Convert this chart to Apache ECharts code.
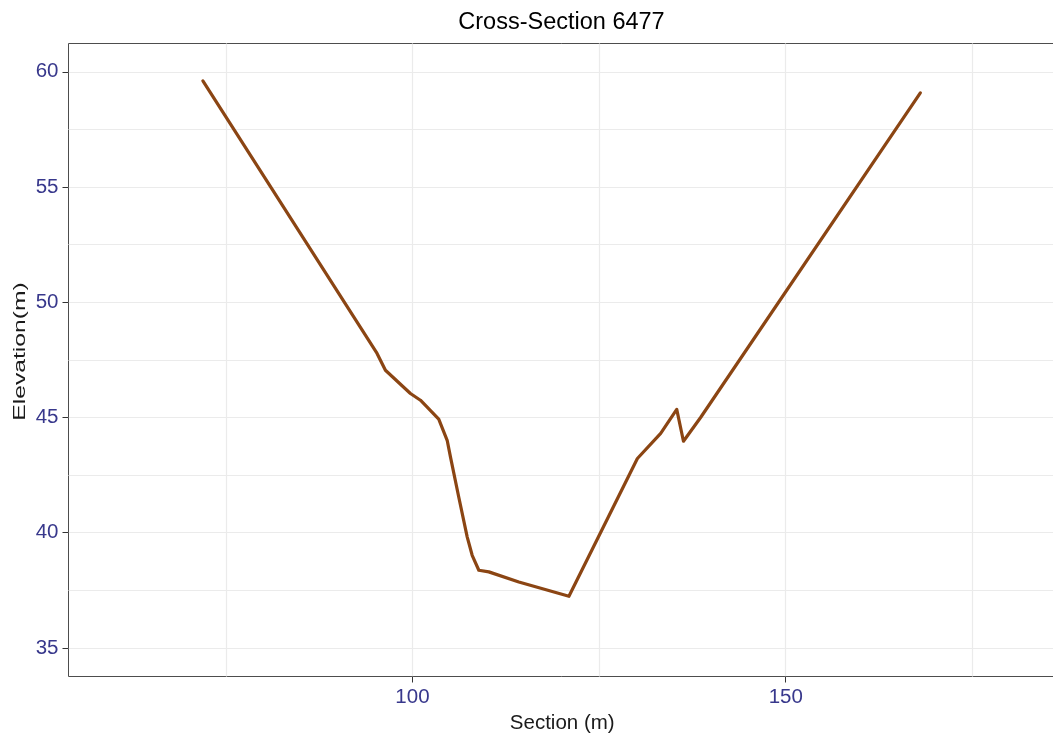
<!DOCTYPE html>
<html>
<head>
<meta charset="utf-8">
<title>Cross-Section 6477</title>
<script src="https://cdn.jsdelivr.net/npm/echarts@6/dist/echarts.min.js"></script>
<style>
  html, body { margin: 0; padding: 0; background: #ffffff; }
  #chart { width: 1053px; height: 740px; }
</style>
</head>
<body>
<div id="chart"></div>
<script>
// Channel survey: station along the section (m) and ground elevation (m)
const station = [71.93, 95.26, 96.38, 99.73, 101.07, 103.52, 104.65, 105.09, 106.2, 107.33,
                 108.0, 108.89, 110.23, 114.25, 120.96, 130.13, 133.25, 135.40, 136.30, 138.62, 168.03];
const elevation = [59.61, 47.78, 47.05, 46.04, 45.75, 44.93, 44.01, 43.29, 41.55, 39.82,
                   39.02, 38.37, 38.30, 37.86, 37.24, 43.22, 44.31, 45.35, 43.97, 45.01, 59.09];

// Axis ranges and tick positions
const xRange = [53.93, 186.2];
const yRange = [33.76, 61.23];
const xMajorTicks = [100, 150];
const xMinorTicks = [75, 125, 175];
const yMajorTicks = [35, 40, 45, 50, 55, 60];
const yMinorTicks = [37.5, 42.5, 47.5, 52.5, 57.5];

const FONT = "'Liberation Sans', Arial, sans-serif";
const GRID_COLOR = '#ebebeb';
const TICK_TEXT = '#38388c';

const profile = station.map((s, i) => [s, elevation[i]]);

const chart = echarts.init(document.getElementById('chart'), null, { renderer: 'canvas' });

chart.setOption({
  backgroundColor: '#ffffff',
  animation: false,
  grid: {
    left: 68.5,
    top: 43.5,
    right: -3,
    bottom: 63.5,
    outerBoundsMode: 'none',
    containLabel: false,
    show: true,
    borderColor: '#4d4d4d',
    borderWidth: 1,
    backgroundColor: 'transparent'
  },
  graphic: [
    {
      type: 'text',
      x: 561.5,
      y: 22.5,
      style: {
        text: 'Cross-Section 6477',
        fontFamily: FONT,
        fontSize: 23.5,
        fill: '#000000',
        textAlign: 'center',
        textVerticalAlign: 'middle'
      }
    },
    {
      // vertical axis title, drawn tall and narrow
      type: 'text',
      x: 20.5,
      y: 351.5,
      rotation: Math.PI / 2,
      scaleX: 1.45,
      scaleY: 1,
      style: {
        text: 'Elevation(m)',
        fontFamily: FONT,
        fontSize: 17,
        fill: '#1a1a1a',
        textAlign: 'center',
        textVerticalAlign: 'middle'
      }
    }
  ],
  xAxis: [
    {
      type: 'value',
      min: xRange[0],
      max: xRange[1],
      position: 'bottom',
      name: 'Section (m)',
      nameLocation: 'middle',
      nameGap: 36,
      nameTextStyle: { fontFamily: FONT, fontSize: 20.5, color: '#1a1a1a' },
      axisLine: { show: false },
      axisTick: { show: true, customValues: xMajorTicks, length: 6, lineStyle: { color: '#333333' } },
      axisLabel: { customValues: xMajorTicks, fontFamily: FONT, fontSize: 20.5, color: TICK_TEXT, margin: 10 },
      splitLine: { show: true, customValues: xMajorTicks, lineStyle: { color: GRID_COLOR, width: 1.2 } }
    },
    {
      type: 'value',
      min: xRange[0],
      max: xRange[1],
      position: 'bottom',
      axisLine: { show: false },
      axisTick: { show: false, customValues: xMinorTicks },
      axisLabel: { show: false, customValues: xMinorTicks },
      splitLine: { show: true, customValues: xMinorTicks, lineStyle: { color: GRID_COLOR, width: 1.2 } }
    }
  ],
  yAxis: [
    {
      type: 'value',
      min: yRange[0],
      max: yRange[1],
      position: 'left',
      axisLine: { show: false },
      axisTick: { show: true, customValues: yMajorTicks, length: 6, lineStyle: { color: '#333333' } },
      axisLabel: { customValues: yMajorTicks, fontFamily: FONT, fontSize: 20.5, color: TICK_TEXT, margin: 10 },
      splitLine: { show: true, customValues: yMajorTicks, lineStyle: { color: GRID_COLOR, width: 1.2 } }
    },
    {
      type: 'value',
      min: yRange[0],
      max: yRange[1],
      position: 'left',
      axisLine: { show: false },
      axisTick: { show: false, customValues: yMinorTicks },
      axisLabel: { show: false, customValues: yMinorTicks },
      splitLine: { show: true, customValues: yMinorTicks, lineStyle: { color: GRID_COLOR, width: 1.2 } }
    }
  ],
  series: [
    {
      name: 'Ground profile',
      type: 'line',
      xAxisIndex: 0,
      yAxisIndex: 0,
      data: profile,
      showSymbol: false,
      symbol: 'none',
      lineStyle: { color: '#8b4513', width: 3.2, join: 'round', cap: 'round' },
      z: 5
    }
  ]
});
</script>
</body>
</html>
